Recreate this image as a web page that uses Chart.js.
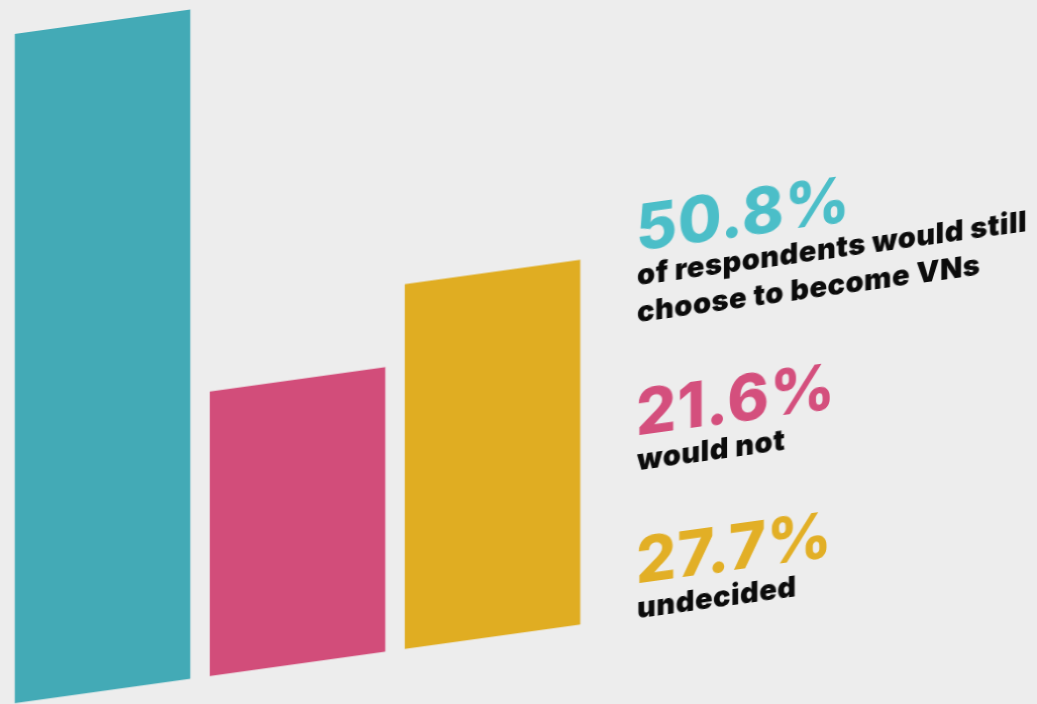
<!DOCTYPE html>
<html>
<head>
<meta charset="utf-8">
<script src="https://cdn.jsdelivr.net/npm/chart.js@4.4.1/dist/chart.umd.min.js"></script>
<style>
  html, body {
    margin: 0;
    padding: 0;
    width: 1037px;
    height: 704px;
    overflow: hidden;
    background: #ededed;
  }
  #myChart {
    position: absolute;
    left: 0;
    top: 0;
    transform: skewY(-7.92deg);
    transform-origin: 0 0;
  }
</style>
</head>
<body>
<canvas id="myChart" width="1037" height="724"></canvas>
<script>
const categories = ['Would still choose', 'Would not', 'Undecided'];
const values = [50.8, 21.6, 27.7];
const captions = [
  ['of respondents would still', 'choose to become VNs'],
  ['would not'],
  ['undecided'],
];
const barColors = ['#43aab6', '#d24d7a', '#e0ad22'];
const textColors = ['#4bbec8', '#d44f7d', '#e2af26'];

// baselines of each text block, in the unskewed canvas
const blockBaselines = [339, 524, 672];

const textPlugin = {
  id: 'sideText',
  afterDraw(chart) {
    const ctx = chart.ctx;
    ctx.save();
    ctx.textBaseline = 'alphabetic';
    ctx.textAlign = 'left';
    values.forEach((v, i) => {
      const y = blockBaselines[i];
      ctx.fillStyle = textColors[i];
      ctx.font = '800 63px Inter';
      ctx.letterSpacing = '1px';
      ctx.fillText(`${v.toFixed(1)}%`, 636, y);
      ctx.fillStyle = '#0b0b0b';
      ctx.font = '900 29px Inter';
      ctx.letterSpacing = '0.5px';
      captions[i].forEach((line, j) => {
        ctx.fillText(line, 637, y + 35 + j * 37);
      });
    });
    ctx.restore();
  },
};

const ctx = document.getElementById('myChart').getContext('2d');

const chart = new Chart(ctx, {
  type: 'bar',
  data: {
    labels: categories,
    datasets: [
      {
        data: values,
        backgroundColor: barColors,
        borderWidth: 0,
        categoryPercentage: 1,
        barPercentage: 0.9,
      },
    ],
  },
  options: {
    responsive: false,
    animation: false,
    layout: {
      padding: { left: 5, right: 447, top: 0, bottom: 18.5 },
    },
    scales: {
      x: {
        display: false,
        grid: { display: false },
      },
      y: {
        display: false,
        min: 0,
        max: 53.53,
        grid: { display: false },
      },
    },
    plugins: {
      legend: { display: false },
      tooltip: { enabled: false },
    },
  },
  plugins: [textPlugin],
});
</script>
</body>
</html>
